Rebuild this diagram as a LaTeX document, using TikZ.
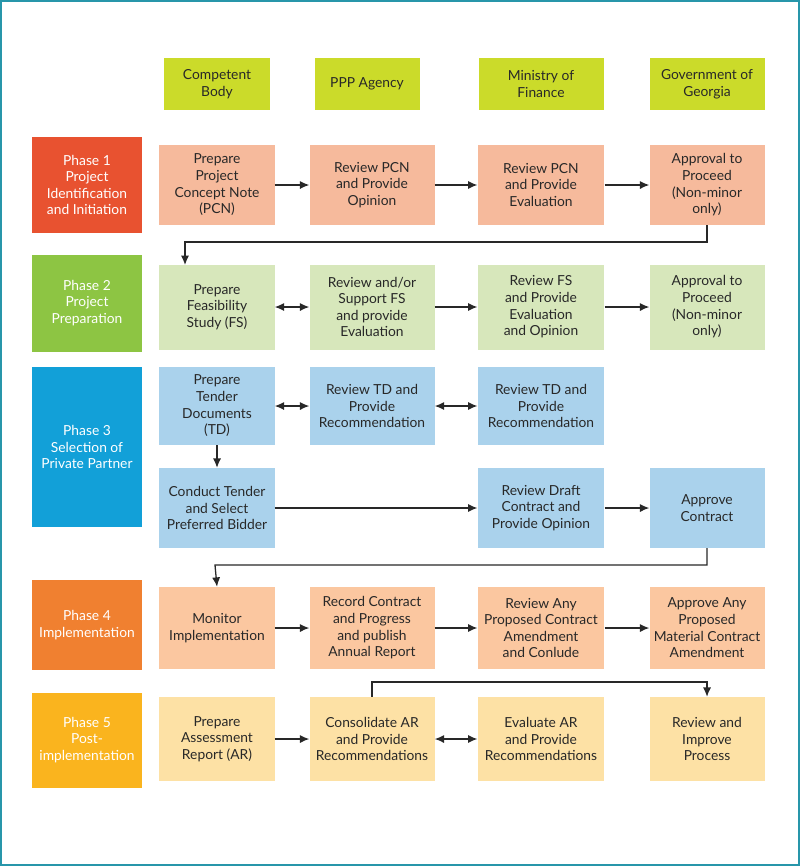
\documentclass[tikz,border=0pt]{standalone}
\usepackage{fontspec}
\setmainfont{Lato}
\usetikzlibrary{arrows.meta,positioning}
\definecolor{hdr}{RGB}{203,219,42}
\definecolor{ph1}{RGB}{232,82,48}
\definecolor{ph2}{RGB}{141,197,67}
\definecolor{ph3}{RGB}{18,160,216}
\definecolor{ph4}{RGB}{240,128,48}
\definecolor{ph5}{RGB}{250,180,30}
\definecolor{bx1}{RGB}{246,186,156}
\definecolor{bx2}{RGB}{215,231,187}
\definecolor{bx3}{RGB}{170,210,236}
\definecolor{bx4}{RGB}{251,199,160}
\definecolor{bx5}{RGB}{253,225,165}
\definecolor{txt}{RGB}{40,40,40}
\definecolor{frame}{RGB}{40,150,170}
\tikzset{
  box/.style = {rectangle, align=center, text=txt, font=\fontsize{11.8}{14.2}\selectfont, inner sep=1pt},
  head/.style = {box, fill=hdr, minimum width=3.15cm, minimum height=1.56cm},
  phase/.style = {box, text=white, minimum width=3.3cm},
  task/.style = {box, minimum height=2.4cm},
  link/.style = {-{Latex[length=8pt,width=7pt]}, line width=1.1pt, txt},
  both/.style = {{Latex[length=8pt,width=7pt]}-{Latex[length=8pt,width=7pt]}, line width=1.1pt, txt}
}
\begin{document}
\begin{tikzpicture}[x=0.03cm, y=-0.03cm]
    \useasboundingbox (0,0) rectangle (800,866);
    \draw[frame, line width=1.2pt] (1,1) rectangle (799,865);

    % columns
    \node[head] (H1) at (217,84) {Competent\\Body};
    \node[head] (H2) at (367,84) {PPP Agency};
    \node[head, minimum width=3.75cm] (H3) at (541,84) {Ministry of\\Finance};
    \node[head, minimum width=3.45cm] (H4) at (707,84) {Government of\\Georgia};

    % phases
    \node[phase, fill=ph1, minimum height=2.88cm] (P1) at (87,185) {Phase 1\\Project\\Identification\\and Initiation};
    \node[phase, fill=ph2, minimum height=2.91cm] (P2) at (87,303) {Phase 2\\Project\\Preparation};
    \node[phase, fill=ph3, minimum height=4.8cm] (P3) at (87,447) {Phase 3\\Selection of\\Private Partner};
    \node[phase, fill=ph4, minimum height=2.7cm] (P4) at (87,625) {Phase 4\\Implementation};
    \node[phase, fill=ph5, minimum height=2.85cm] (P5) at (87,740) {Phase 5\\Post-\\implementation};

    % phase 1
    \node[task, fill=bx1, minimum width=3.45cm] (A1) at (217,185) {Prepare\\Project\\Concept Note\\(PCN)};
    \node[task, fill=bx1, minimum width=3.75cm] (A2) at (372,185) {Review PCN\\and Provide\\Opinion};
    \node[task, fill=bx1, minimum width=3.8cm] (A3) at (541,185) {Review PCN\\and Provide\\Evaluation};
    \node[task, fill=bx1, minimum width=3.45cm] (A4) at (707,185) {Approval to\\Proceed\\(Non-minor\\only)};

    % phase 2
    \node[task, fill=bx2, minimum width=3.45cm, minimum height=2.55cm] (B1) at (217,307) {Prepare\\Feasibility\\Study (FS)};
    \node[task, fill=bx2, minimum width=3.75cm, minimum height=2.55cm] (B2) at (372,307) {Review and/or\\Support FS\\and provide\\Evaluation};
    \node[task, fill=bx2, minimum width=3.8cm, minimum height=2.55cm] (B3) at (541,307) {Review FS\\and Provide\\Evaluation\\and Opinion};
    \node[task, fill=bx2, minimum width=3.45cm, minimum height=2.55cm] (B4) at (707,307) {Approval to\\Proceed\\(Non-minor\\only)};

    % phase 3
    \node[task, fill=bx3, minimum width=3.45cm, minimum height=2.34cm] (C1) at (217,406) {Prepare\\Tender\\Documents\\(TD)};
    \node[task, fill=bx3, minimum width=3.75cm, minimum height=2.34cm] (C2) at (372,406) {Review TD and\\Provide\\Recommendation};
    \node[task, fill=bx3, minimum width=3.8cm, minimum height=2.34cm] (C3) at (541,406) {Review TD and\\Provide\\Recommendation};
    \node[task, fill=bx3, minimum width=3.45cm] (D1) at (217,508) {Conduct Tender\\and Select\\Preferred Bidder};
    \node[task, fill=bx3, minimum width=3.8cm] (D3) at (541,508) {Review Draft\\Contract and\\Provide Opinion};
    \node[task, fill=bx3, minimum width=3.45cm] (D4) at (707,508) {Approve\\Contract};

    % phase 4
    \node[task, fill=bx4, minimum width=3.45cm, minimum height=2.46cm] (E1) at (217,628) {Monitor\\Implementation};
    \node[task, fill=bx4, minimum width=3.75cm, minimum height=2.46cm] (E2) at (372,628) {Record Contract\\and Progress\\and publish\\Annual Report};
    \node[task, fill=bx4, minimum width=3.8cm, minimum height=2.46cm] (E3) at (541,628) {Review Any\\Proposed Contract\\Amendment\\and Conlude};
    \node[task, fill=bx4, minimum width=3.45cm, minimum height=2.46cm] (E4) at (707,628) {Approve Any\\Proposed\\Material Contract\\Amendment};

    % phase 5
    \node[task, fill=bx5, minimum width=3.45cm, minimum height=2.52cm] (F1) at (217,739) {Prepare\\Assessment\\Report (AR)};
    \node[task, fill=bx5, minimum width=3.75cm, minimum height=2.52cm] (F2) at (372,739) {Consolidate AR\\and Provide\\Recommendations};
    \node[task, fill=bx5, minimum width=3.8cm, minimum height=2.52cm] (F3) at (541,739) {Evaluate AR\\and Provide\\Recommendations};
    \node[task, fill=bx5, minimum width=3.45cm, minimum height=2.52cm] (F4) at (707,739) {Review and\\Improve\\Process};

    \draw[link] (A1) -- (A2);
    \draw[link] (A2) -- (A3);
    \draw[link] (A3) -- (A4);
    \draw[link] (A4.south) |- (185,242) -- (185,265);
    \draw[both] (B1) -- (B2);
    \draw[link] (B2) -- (B3);
    \draw[link] (B3) -- (B4);
    \draw[both] (C1) -- (C2);
    \draw[both] (C2) -- (C3);
    \draw[link] (C1) -- (D1);
    \draw[link] (D1) -- (D3);
    \draw[link] (D3) -- (D4);
    \draw[link] (D4.south) |- (215,565) -- (E1.north);
    \draw[link] (E1) -- (E2);
    \draw[link] (E2) -- (E3);
    \draw[link] (E3) -- (E4);
    \draw[link] (F1) -- (F2);
    \draw[both] (F2) -- (F3);
    \draw[link] (F2.north) |- (707,682) -- (F4.north);
\end{tikzpicture}
\end{document}
